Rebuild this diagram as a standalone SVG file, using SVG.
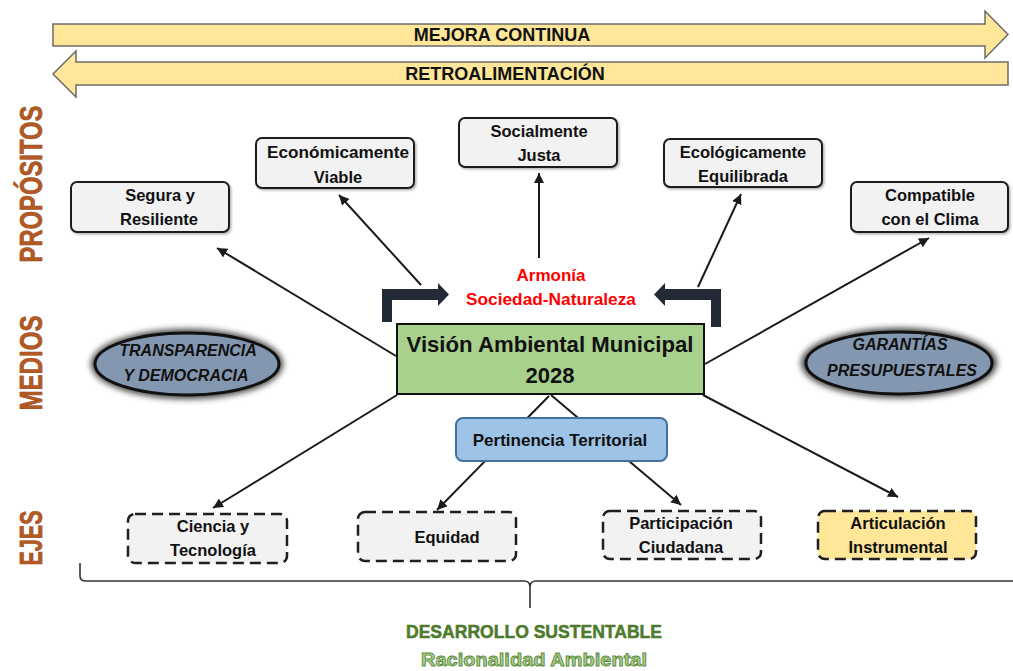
<svg xmlns="http://www.w3.org/2000/svg" width="1013" height="671" viewBox="0 0 1013 671">
<defs>
<style>
.t{font-family:"Liberation Sans",Arial,sans-serif;font-weight:bold;text-anchor:middle;fill:#111}
.box{fill:#F2F2F2;stroke:#1f1f1f;stroke-width:2}
.dash{fill:#F2F2F2;stroke:#1f1f1f;stroke-width:2.5;stroke-dasharray:11 6}
.con{stroke:#1a1a1a;stroke-width:2;fill:none}
.side{font-family:"Liberation Sans",Arial,sans-serif;font-weight:bold;fill:#B35A24;text-anchor:middle;stroke:#9a4a1c;stroke-width:0.6}
.ell{fill:#8497B0;stroke:#111;stroke-width:3}
.band{fill:#FFE699;stroke:#6b6b6b;stroke-width:1.5}
.bent{fill:#222A35}
</style>
<marker id="ah" viewBox="0 0 10 10" refX="10" refY="5" markerWidth="10" markerHeight="10" markerUnits="userSpaceOnUse" orient="auto">
<path d="M0,0 L10,5 L0,10 Z" fill="#1a1a1a"/>
</marker>
<filter id="glow" x="-20%" y="-40%" width="140%" height="180%">
<feGaussianBlur stdDeviation="3"/>
</filter>
<filter id="sh" x="-10%" y="-20%" width="130%" height="150%">
<feDropShadow dx="1.5" dy="1.5" stdDeviation="1.2" flood-color="#000" flood-opacity="0.3"/>
</filter>
</defs>
<rect width="1013" height="671" fill="#ffffff"/>

<g id="mejora-continua">
<polygon class="band" points="53,24 985,24 985,11 1008,34.5 985,58 985,46 53,46"/>
<text class="t" x="502" y="41" font-size="18">MEJORA CONTINUA</text>
</g>
<g id="retroalimentacion">
<polygon class="band" points="1008,62 76,62 76,51 53,74 76,97 76,85 1008,85"/>
<text class="t" x="505" y="80" font-size="18">RETROALIMENTACIÓN</text>
</g>

<g id="side-labels">
<text class="side" transform="translate(42,184) rotate(-90)" font-size="32" textLength="157" lengthAdjust="spacingAndGlyphs">PROPÓSITOS</text>
<text class="side" transform="translate(42,363) rotate(-90)" font-size="32" textLength="95" lengthAdjust="spacingAndGlyphs">MEDIOS</text>
<text class="side" transform="translate(42,538) rotate(-90)" font-size="32" textLength="55" lengthAdjust="spacingAndGlyphs">EJES</text>
</g>

<g id="connectors">
<line class="con" x1="396" y1="356" x2="217" y2="248" marker-end="url(#ah)"/>
<line class="con" x1="421" y1="285" x2="339" y2="195" marker-end="url(#ah)"/>
<line class="con" x1="539" y1="258" x2="539" y2="173" marker-end="url(#ah)"/>
<line class="con" x1="698" y1="287" x2="741" y2="194" marker-end="url(#ah)"/>
<line class="con" x1="705" y1="364" x2="929" y2="238" marker-end="url(#ah)"/>
<line class="con" x1="397" y1="395" x2="213" y2="508" marker-end="url(#ah)"/>
<line class="con" x1="549" y1="396" x2="437" y2="510" marker-end="url(#ah)"/>
<line class="con" x1="551" y1="395" x2="681" y2="505" marker-end="url(#ah)"/>
<line class="con" x1="703" y1="395" x2="898" y2="497" marker-end="url(#ah)"/>
</g>

<g id="segura-resiliente">
<rect class="box" x="71" y="182" width="158" height="50" rx="6" filter="url(#sh)"/>
<text class="t" x="160" y="201" font-size="16.5">Segura y</text>
<text class="t" x="159" y="225" font-size="16.5">Resiliente</text>
</g>
<g id="economicamente-viable">
<rect class="box" x="256" y="138" width="158" height="50" rx="6" filter="url(#sh)"/>
<text class="t" x="338" y="158" font-size="16.5" textLength="142" lengthAdjust="spacingAndGlyphs">Económicamente</text>
<text class="t" x="338" y="183" font-size="16.5">Viable</text>
</g>
<g id="socialmente-justa">
<rect class="box" x="459" y="118" width="158" height="49" rx="6" filter="url(#sh)"/>
<text class="t" x="539" y="137" font-size="16.5">Socialmente</text>
<text class="t" x="539" y="161" font-size="16.5">Justa</text>
</g>
<g id="ecologicamente-equilibrada">
<rect class="box" x="664" y="139" width="158" height="48" rx="6" filter="url(#sh)"/>
<text class="t" x="743" y="158" font-size="16.5">Ecológicamente</text>
<text class="t" x="743" y="182" font-size="16.5">Equilibrada</text>
</g>
<g id="compatible-clima">
<rect class="box" x="851" y="182" width="157" height="50" rx="6" filter="url(#sh)"/>
<text class="t" x="930" y="201" font-size="16.5">Compatible</text>
<text class="t" x="930" y="225" font-size="16.5">con el Clima</text>
</g>

<g id="armonia">
<text class="t" x="551" y="281" font-size="17" style="fill:#FF0000">Armonía</text>
<text class="t" x="551" y="305" font-size="17" style="fill:#FF0000" textLength="170" lengthAdjust="spacingAndGlyphs">Sociedad-Naturaleza</text>
</g>
<g id="bent-arrow-left">
<polygon class="bent" points="382,322 382,289 438,289 438,283 449,294.5 438,306 438,300 392,300 392,322"/>
</g>
<g id="bent-arrow-right">
<polygon class="bent" points="721,327 721,289 665,289 665,283 654,294.5 665,306 665,300 711,300 711,327"/>
</g>

<g id="vision-ambiental">
<rect x="397" y="324" width="307" height="70" fill="#A9D18E" stroke="#111" stroke-width="2"/>
<text class="t" x="550" y="352" font-size="22" textLength="287" lengthAdjust="spacingAndGlyphs">Visión Ambiental Municipal</text>
<text class="t" x="550" y="383" font-size="22">2028</text>
</g>

<g id="transparencia">
<ellipse cx="187" cy="364" rx="96" ry="35" fill="#000" opacity="0.75" filter="url(#glow)"/>
<ellipse class="ell" cx="187" cy="364" rx="92" ry="31"/>
<text class="t" x="188" y="356" font-size="16" font-style="italic">TRANSPARENCIA</text>
<text class="t" x="186" y="381" font-size="16" font-style="italic">Y DEMOCRACIA</text>
</g>
<g id="garantias">
<ellipse cx="899" cy="363" rx="98" ry="35" fill="#000" opacity="0.75" filter="url(#glow)"/>
<ellipse class="ell" cx="899" cy="363" rx="93" ry="31"/>
<text class="t" x="900" y="350" font-size="16" font-style="italic">GARANTÍAS</text>
<text class="t" x="902" y="376" font-size="16" font-style="italic">PRESUPUESTALES</text>
</g>

<g id="pertinencia-territorial">
<rect x="456" y="418" width="211" height="43" rx="7" fill="#9DC3E6" stroke="#41719C" stroke-width="2"/>
<text class="t" x="560" y="446" font-size="17">Pertinencia Territorial</text>
</g>

<g id="ciencia-tecnologia">
<rect class="dash" x="128" y="514" width="159" height="49" rx="7"/>
<text class="t" x="213" y="532" font-size="16.5">Ciencia y</text>
<text class="t" x="213" y="556" font-size="16.5">Tecnología</text>
</g>
<g id="equidad">
<rect class="dash" x="358" y="512" width="158" height="49" rx="7"/>
<text class="t" x="447" y="543" font-size="16.5">Equidad</text>
</g>
<g id="participacion-ciudadana">
<rect class="dash" x="603" y="511" width="158" height="48" rx="7"/>
<text class="t" x="681" y="529" font-size="16.5">Participación</text>
<text class="t" x="681" y="553" font-size="16.5">Ciudadana</text>
</g>
<g id="articulacion-instrumental">
<rect class="dash" x="818" y="511" width="158" height="48" rx="7" style="fill:#FFE699"/>
<text class="t" x="898" y="529" font-size="16.5">Articulación</text>
<text class="t" x="898" y="553" font-size="16.5">Instrumental</text>
</g>

<g id="brace">
<path d="M80,563 L80,576 Q80,581 86,581 L524,581 Q530,581 530,587 L530,608 M530,587 Q530,581 536,581 L1013,581" fill="none" stroke="#333" stroke-width="1.6"/>
</g>

<g id="desarrollo-sustentable">
<text class="t" x="534" y="638" font-size="18" textLength="256" lengthAdjust="spacingAndGlyphs" style="fill:#4E7A2C;stroke:#4E7A2C;stroke-width:0.5">DESARROLLO SUSTENTABLE</text>
<text class="t" x="534" y="666" font-size="19" textLength="226" lengthAdjust="spacingAndGlyphs" style="fill:#A9D18E;stroke:#5E8A3E;stroke-width:0.9">Racionalidad Ambiental</text>
</g>
</svg>
